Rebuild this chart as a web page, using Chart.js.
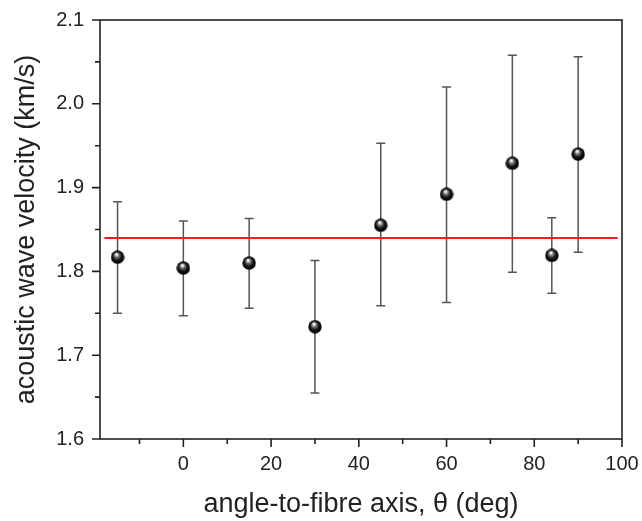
<!DOCTYPE html>
<html>
<head>
<meta charset="utf-8">
<script src="https://cdn.jsdelivr.net/npm/chart.js@4"></script>
<style>
  html, body { margin: 0; padding: 0; background: #fff; }
  #wrap { width: 642px; height: 521px; }
</style>
</head>
<body>
<div id="wrap"><canvas id="graficoVelocidad"></canvas></div>
<script>
// datos
const angulos   = [-15, 0, 15, 30, 45, 60, 75, 84, 90];
const velocidad = [1.817, 1.804, 1.810, 1.734, 1.855, 1.892, 1.929, 1.819, 1.940];
const errSup    = [1.883, 1.860, 1.863, 1.813, 1.953, 2.020, 2.058, 1.864, 2.056];
const errInf    = [1.750, 1.747, 1.756, 1.655, 1.759, 1.763, 1.799, 1.774, 1.823];
const lineaMedia = 1.84;
const lineaX     = [-18, 99];

const xTicks      = [0, 20, 40, 60, 80, 100];
const xMinorTicks = [-10, 10, 30, 50, 70, 90];
const yTicks      = [1.6, 1.7, 1.8, 1.9, 2.0, 2.1];
const yMinorTicks = [1.65, 1.75, 1.85, 1.95, 2.05];

const fuente = "'Liberation Sans', Arial, sans-serif";
const colorTexto = '#222';

// marcador tipo esfera
function crearEsfera(r) {
    const c = document.createElement('canvas');
    c.width = c.height = r * 2;
    const g = c.getContext('2d');
    const grad = g.createRadialGradient(r * 0.85, r * 0.6, r * 0.1, r, r, r);
    grad.addColorStop(0, '#ffffff');
    grad.addColorStop(0.25, '#777');
    grad.addColorStop(0.6, '#111');
    grad.addColorStop(1, '#000');
    g.fillStyle = grad;
    g.beginPath();
    g.arc(r, r, r - 0.3, 0, Math.PI * 2);
    g.fill();
    return c;
}
const esfera = crearEsfera(7);

// barras de error, ticks y marco
const pluginExtras = {
    id: 'extras',
    beforeDatasetsDraw(chart) {
        const ctx = chart.ctx;
        const xs = chart.scales.x, ys = chart.scales.y;
        ctx.save();
        ctx.strokeStyle = '#555';
        ctx.lineWidth = 1.5;
        angulos.forEach((a, i) => {
            const px = xs.getPixelForValue(a);
            const p1 = ys.getPixelForValue(errSup[i]);
            const p2 = ys.getPixelForValue(errInf[i]);
            ctx.beginPath();
            ctx.moveTo(px, p1); ctx.lineTo(px, p2);
            ctx.moveTo(px - 4.5, p1); ctx.lineTo(px + 4.5, p1);
            ctx.moveTo(px - 4.5, p2); ctx.lineTo(px + 4.5, p2);
            ctx.stroke();
        });
        ctx.restore();
    },
    afterDraw(chart) {
        const ctx = chart.ctx;
        const { left, right, top, bottom } = chart.chartArea;
        const xs = chart.scales.x, ys = chart.scales.y;
        ctx.save();
        ctx.strokeStyle = '#222';
        ctx.lineWidth = 1.6;
        ctx.strokeRect(left, top, right - left, bottom - top);
        ctx.beginPath();
        xTicks.forEach(v => { const p = xs.getPixelForValue(v); ctx.moveTo(p, bottom); ctx.lineTo(p, bottom + 8); });
        xMinorTicks.forEach(v => { const p = xs.getPixelForValue(v); ctx.moveTo(p, bottom); ctx.lineTo(p, bottom + 5); });
        yTicks.forEach(v => { const p = ys.getPixelForValue(v); ctx.moveTo(left, p); ctx.lineTo(left - 8, p); });
        yMinorTicks.forEach(v => { const p = ys.getPixelForValue(v); ctx.moveTo(left, p); ctx.lineTo(left - 5, p); });
        ctx.stroke();
        ctx.restore();
    }
};

new Chart(document.getElementById('graficoVelocidad').getContext('2d'), {
    type: 'scatter',
    data: {
        datasets: [
            {
                label: 'media',
                type: 'line',
                data: lineaX.map(x => ({ x: x, y: lineaMedia })),
                borderColor: '#ff1a1a',
                borderWidth: 2,
                pointRadius: 0,
                order: 2
            },
            {
                label: 'velocidad',
                data: angulos.map((a, i) => ({ x: a, y: velocidad[i] })),
                pointStyle: esfera,
                pointRadius: 7,
                order: 1
            }
        ]
    },
    options: {
        responsive: true,
        maintainAspectRatio: false,
        animation: false,
        layout: { padding: { top: 20, right: 20, left: 0, bottom: 0 } },
        plugins: {
            legend: { display: false },
            tooltip: { enabled: false }
        },
        scales: {
            x: {
                type: 'linear',
                min: -19,
                max: 100,
                afterBuildTicks: s => { s.ticks = xTicks.map(v => ({ value: v })); },
                afterFit: s => { s.height = 82; s.paddingLeft = 0; s.paddingRight = 0; },
                grid: { display: false, drawTicks: false },
                border: { display: false },
                ticks: {
                    padding: 13,
                    color: colorTexto,
                    font: { family: fuente, size: 20 }
                },
                title: {
                    display: true,
                    text: 'angle-to-fibre axis, \u03b8 (deg)',
                    color: colorTexto,
                    font: { family: fuente, size: 27 },
                    padding: { top: 10, bottom: 0 }
                }
            },
            y: {
                type: 'linear',
                min: 1.6,
                max: 2.1,
                afterBuildTicks: s => { s.ticks = yTicks.map(v => ({ value: v })); },
                afterFit: s => { s.width = 100; s.paddingTop = 0; s.paddingBottom = 0; },
                grid: { display: false, drawTicks: false },
                border: { display: false },
                ticks: {
                    padding: 16,
                    color: colorTexto,
                    font: { family: fuente, size: 20 },
                    callback: v => v.toFixed(1)
                },
                title: {
                    display: true,
                    text: 'acoustic wave velocity (km/s)',
                    color: colorTexto,
                    font: { family: fuente, size: 27 },
                    padding: { top: 10 }
                }
            }
        }
    },
    plugins: [pluginExtras]
});
</script>
</body>
</html>
